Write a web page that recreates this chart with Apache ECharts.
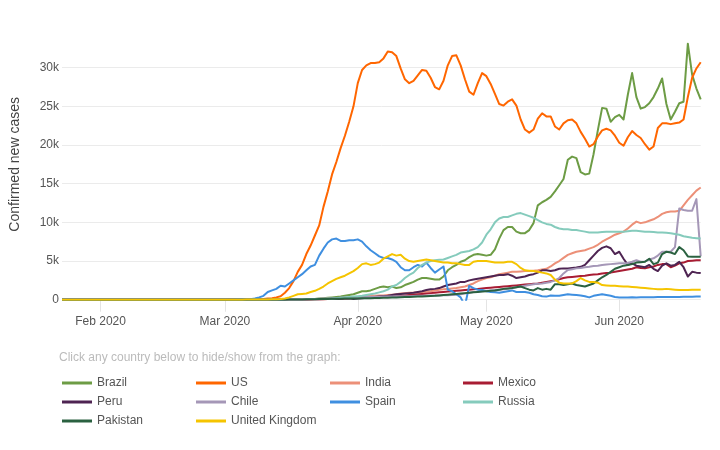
<!DOCTYPE html>
<html><head><meta charset="utf-8">
<script src="https://cdn.jsdelivr.net/npm/echarts@6/dist/echarts.min.js"></script>
<style>html,body{margin:0;padding:0;background:#fff}#c{width:720px;height:450px}</style>
</head><body><div id="c"></div>
<script>
// First value of every series is for 2020-01-23, the rest are daily from 2020-03-01 to 2020-06-20
const countries = ['Brazil','US','India','Mexico','Peru','Chile','Spain','Russia','Pakistan','United Kingdom'];
const colors = ['#6d9c45','#ff6600','#ec9078','#a81c33','#4e2452','#a597b7','#3f8fe0','#85cbbc','#2a6140','#f5c400'];
const monthTickLabels = ['Feb 2020','Mar 2020','Apr 2020','May 2020','Jun 2020'];
const legendColumns = [['Brazil','Peru','Pakistan'],['US','Chile','United Kingdom'],['India','Spain'],['Mexico','Russia']];

const brazil = [0,
 0,0,0,0,0,0,0,0,0,0,
 0,0,0,10,10,20,30,40,50,60,
 80,100,150,200,250,300,350,400,500,600,
 700,900,1100,1100,1200,1400,1600,1700,1600,1700,
 1500,1600,1900,2100,2300,2600,2800,2800,2700,2600,
 2600,3000,3800,4200,4500,4900,5100,5500,5800,5900,
 5800,5700,5800,6500,7900,9000,9400,9400,8800,8600,
 8600,9000,9900,12200,12600,12900,13300,14000,14800,15600,
 18100,18500,18300,16500,16200,16300,18800,21900,24800,24700,
 23000,23600,23900,23300,26500,29300,26200,24700,24900,25400,
 26200,27300,28600,25300,23300,24300,25400,25600,33100,29100,
 27300,25900];
const us = [0,
 0,10,10,20,20,30,40,50,70,100,
 150,200,300,450,900,1500,2400,3600,4500,5900,
 7000,8300,9600,12000,14000,16200,17800,19600,21200,23000,
 25000,28000,29700,30300,30600,30600,30700,31200,32100,32000,
 31500,29900,28500,28000,28300,29000,29700,29600,28700,27500,
 27200,28300,30300,31500,31600,30300,28500,26900,26500,28000,
 29300,28900,27900,26600,25300,25100,25600,25900,25100,23300,
 22000,21600,22000,23400,24100,23700,23700,22400,22000,22800,
 23200,23300,22800,21700,20800,19800,20100,21100,21900,22100,
 21900,21200,20300,19900,21000,21800,21300,20900,20100,19400,
 19800,22200,22800,22800,22700,22800,22900,23300,26200,28700,
 29900,30700];
const india = [0,
 0,0,0,0,0,0,0,0,0,0,
 0,10,10,10,10,10,20,20,30,30,
 40,50,60,70,80,90,100,120,150,200,
 250,300,350,450,500,500,550,550,600,650,
 700,800,850,900,900,950,1000,1050,1100,1200,
 1300,1350,1400,1450,1500,1600,1700,1900,2100,2400,
 2600,2800,2900,3100,3300,3400,3500,3600,3600,3650,
 3700,3700,3750,3800,3900,4000,4300,4700,5000,5400,
 5800,6000,6200,6300,6400,6600,6800,7100,7500,7800,
 8100,8400,8600,8800,9200,9700,10100,9900,10000,10200,
 10400,10700,11100,11300,11400,11400,11500,12200,12900,13500,
 14100,14500];
const mexico = [0,
 0,0,0,0,0,0,0,0,0,0,
 0,0,0,0,0,10,10,20,20,30,
 40,50,60,70,80,100,120,150,180,200,
 220,250,280,300,320,350,380,400,430,450,
 480,500,550,600,650,700,750,800,850,900,
 950,1000,1050,1100,1150,1200,1250,1300,1350,1400,
 1450,1500,1550,1600,1650,1700,1750,1800,1850,1900,
 1950,2000,2050,2100,2200,2300,2400,2500,2650,2800,
 2900,2950,3000,3050,3100,3200,3250,3300,3400,3450,
 3500,3600,3700,3800,3900,4000,4200,4100,4050,4200,
 4300,4500,4600,4600,4200,4400,4700,4800,5000,5050,
 5100,5100];
const peru = [0,
 0,0,0,0,0,0,0,0,0,0,
 0,0,0,0,0,10,10,20,30,40,
 50,60,70,80,90,100,100,120,150,200,
 100,150,200,250,300,350,400,450,500,600,
 700,750,800,850,900,1000,1100,1250,1350,1400,
 1500,1700,1900,2000,2100,2300,2300,2500,2600,2700,
 2800,2900,3000,3100,3200,3200,3300,3100,2800,2900,
 3000,3200,3300,3500,3800,3800,3700,3800,4000,4050,
 4050,4100,4150,4250,4500,5100,5700,6300,6700,6900,
 6650,5900,6200,5300,4500,4700,4400,4300,4200,4500,
 4000,3700,4400,4700,4400,4500,4900,4200,3000,3600,
 3500,3450];
const chile = [0,
 0,0,0,0,0,0,0,0,0,0,
 0,0,0,0,10,20,30,40,50,60,
 80,100,120,150,170,200,220,250,280,300,
 300,320,330,350,350,370,380,400,400,420,
 430,440,450,460,480,500,500,520,530,550,
 550,560,580,600,650,700,800,900,1000,1050,
 1100,1150,1200,1250,1300,1350,1400,1500,1600,1700,
 1800,1900,2000,2050,2100,2200,2300,2500,2800,3400,
 3850,3950,4050,4100,4200,4250,4350,4400,4500,4550,
 4600,4650,4700,4700,4750,4900,5100,4900,4950,5200,
 5350,5700,6200,6200,6200,6800,11800,11600,11500,11500,
 13000,5600];
const spain = [0,
 0,0,0,10,10,20,50,150,300,500,
 1000,1200,1400,1800,1700,2100,2500,2900,3300,3800,
 4300,4500,5700,6600,7400,7800,7900,7600,7600,7700,
 7700,7800,7500,6900,6400,6000,5600,5400,5400,5200,
 4900,4200,3800,3800,4200,4500,4300,4800,4100,3500,
 3900,4300,1300,1100,700,300,-800,1800,1500,1300,
 1250,1100,1000,950,900,1000,1100,1200,1000,1000,
 1000,900,700,600,450,400,550,500,500,600,
 700,650,600,550,450,300,500,600,700,600,
 500,350,300,300,300,310,300,320,330,320,
 330,340,340,350,340,360,360,370,380,390,
 400,400];
const russia = [0,
 0,0,0,0,0,0,0,0,0,0,
 0,0,0,0,10,10,20,30,40,50,
 60,70,80,100,120,150,200,250,300,350,
 400,450,500,600,700,800,950,1100,1300,1700,
 1900,2300,2800,3200,3500,4100,4500,4800,5000,5100,
 5150,5200,5400,5600,5800,6100,6200,6300,6500,6800,
 7400,8400,9100,10000,10500,10700,10700,10900,11100,11200,
 11000,10800,10600,10300,10000,9800,9700,9400,9200,9100,
 9100,9000,9000,8900,8800,8700,8700,8700,8750,8800,
 8800,8800,8800,8800,8850,8900,8900,8850,8800,8800,
 8750,8700,8700,8650,8600,8500,8400,8200,8100,8000,
 7950,7900];
const pakistan = [0,
 0,0,0,0,0,0,0,0,0,0,
 0,0,0,0,0,10,20,30,40,50,
 60,70,80,90,100,110,120,130,140,150,
 160,170,180,190,200,210,220,240,260,280,
 300,320,340,360,380,400,420,450,480,500,
 550,600,650,700,750,800,850,900,950,1000,
 1050,1100,1150,1200,1300,1400,1450,1500,1600,1700,
 1500,1300,1200,1500,1300,1400,1300,2000,2000,1900,
 2000,2100,1900,1800,1700,1900,2100,2500,2900,3200,
 3600,4000,4200,4400,4500,4600,4800,4850,4900,5300,
 4600,4800,5900,6200,6100,5900,6800,6400,5600,5550,
 5550,5550];
const uk = [0,
 0,0,0,0,0,10,10,20,20,30,
 30,50,70,100,150,300,500,700,750,800,
 1000,1150,1400,1700,2100,2400,2700,2900,3100,3400,
 3700,4100,4600,4700,4500,4600,4800,5300,5600,5900,
 5700,5800,5300,5000,4900,5000,5100,5200,5100,5000,
 4900,4800,4800,4700,4700,4600,4500,4500,4900,5000,
 5000,5000,4900,4800,4800,4800,4900,4900,4600,4100,
 3800,3750,3700,3600,3500,3400,3200,2600,2200,2100,
 2100,2100,2400,2800,2500,2300,2300,2200,1900,1850,
 1800,1800,1750,1700,1700,1650,1600,1550,1500,1450,
 1400,1350,1350,1400,1350,1300,1250,1250,1250,1300,
 1300,1300];

const seriesValues = [brazil, us, india, mexico, peru, chile, spain, russia, pakistan, uk];

// dates: Jan 23, then every day Mar 1 .. Jun 20
const dates = [new Date(2020, 0, 23).getTime()];
for (let i = 0; i < 112; i++) dates.push(new Date(2020, 2, 1 + i).getTime());
const monthTicks = [1, 2, 3, 4, 5].map(m => new Date(2020, m, 1).getTime());

const chart = echarts.init(document.getElementById('c'), null, {renderer: 'canvas'});
const font = 'Liberation Sans, Arial, sans-serif';
const legendLeft = [62, 196, 330, 463];

chart.setOption({
  animation: false,
  backgroundColor: '#fff',
  textStyle: {fontFamily: font},
  title: {
    text: 'Click any country below to hide/show from the graph:',
    left: 59, top: 352, padding: 0,
    textStyle: {fontSize: 12, fontWeight: 'normal', color: '#bbbbbb', fontFamily: font}
  },
  legend: legendColumns.map((col, k) => ({
    data: col, orient: 'vertical', left: legendLeft[k], top: 376, padding: 0,
    icon: 'rect', itemWidth: 30, itemHeight: 3, itemGap: 5,
    textStyle: {fontSize: 12, color: '#555', lineHeight: 14, fontFamily: font}
  })),
  grid: {left: 57.7, width: 643, top: 29, height: 270.7, containLabel: false},
  xAxis: {
    type: 'value',
    min: new Date(2020, 0, 23).getTime(),
    max: new Date(2020, 5, 20).getTime(),
    axisLine: {show: false},
    axisTick: {show: true, customValues: monthTicks, length: 12, lineStyle: {color: '#e4e4e4', width: 1}},
    axisLabel: {
      customValues: monthTicks, margin: 16, fontSize: 12, color: '#555', fontFamily: font,
      formatter: v => monthTickLabels[new Date(v).getMonth() - 1]
    },
    splitLine: {show: false}
  },
  yAxis: {
    type: 'value', min: 0, max: 35000, interval: 5000,
    name: 'Confirmed new cases', nameLocation: 'middle', nameGap: 40,
    nameTextStyle: {fontSize: 14, color: '#444', fontFamily: font},
    axisLine: {show: false}, axisTick: {show: false},
    axisLabel: {
      margin: 3, fontSize: 12, color: '#555', fontFamily: font, showMaxLabel: false,
      formatter: v => v === 0 ? '0' : (v / 1000) + 'k'
    },
    splitLine: {show: true, showMaxLine: false, lineStyle: {color: '#ebebeb', width: 1}}
  },
  series: countries.map((name, k) => ({
    name, type: 'line', symbol: 'none', showSymbol: false,
    color: colors[k],
    lineStyle: {width: 2, color: colors[k], join: 'round'},
    emphasis: {disabled: true},
    data: seriesValues[k].map((v, i) => [dates[i], v])
  }))
});
</script>
</body></html>
